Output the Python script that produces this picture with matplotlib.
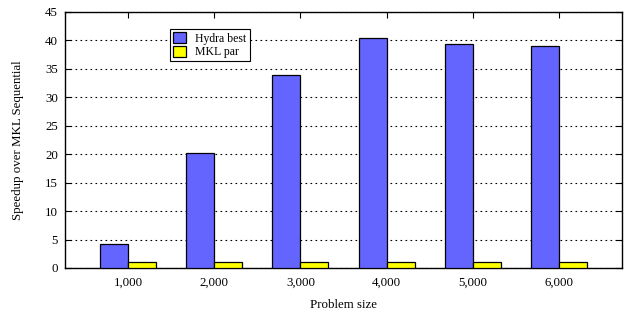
import matplotlib
matplotlib.use("Agg")
import matplotlib.pyplot as plt
import numpy as np

plt.rcParams['font.family'] = ['Liberation Serif', 'DejaVu Serif']

sizes = ["1,000", "2,000", "3,000", "4,000", "5,000", "6,000"]
hydra_best = [4.3, 20.2, 34.0, 40.5, 39.4, 39.0]
mkl_par = [1.0, 1.0, 1.0, 1.0, 1.0, 1.0]

fig = plt.figure(figsize=(6.26, 3.16), dpi=100)
ax = fig.add_axes([65/626, 48/316, 557/626, 256/316])

x = np.arange(1, len(sizes) + 1)
w = 0.325
ax.bar(x - w/2, hydra_best, w, color="#6464ff", edgecolor="black", linewidth=0.9, label="Hydra best", zorder=3)
ax.bar(x + w/2, mkl_par, w, color="#ffff00", edgecolor="black", linewidth=0.9, label="MKL par", zorder=3)

ax.set_xlim(0.27, 6.73)
ax.set_ylim(0, 45)
ax.set_yticks(range(0, 46, 5))
ax.set_xticks(x)
ax.set_xticklabels(sizes)
ax.tick_params(axis='both', direction='in', labelsize=9.3, top=True, right=True, length=4, width=0.8)
ax.tick_params(axis='x', pad=6)
ax.tick_params(axis='y', pad=5)
ax.yaxis.grid(True, linestyle=(0, (1.5, 3)), color="black", linewidth=0.8, zorder=0)
for s in ax.spines.values():
    s.set_linewidth(1.0)

ax.set_ylabel("Speedup over MKL Sequential", fontsize=9.3)
ax.yaxis.set_label_coords(-0.0736, 0.5)
ax.set_xlabel("Problem size", fontsize=9.3, labelpad=8)

leg = ax.legend(loc="upper left", bbox_to_anchor=(105/557, 1 - 17/256), fontsize=8.5,
                handlelength=1.1, handleheight=1.1, handletextpad=0.8, borderpad=0.25,
                labelspacing=0.1, borderaxespad=0, fancybox=False, framealpha=1, edgecolor="black")
leg.get_frame().set_linewidth(0.8)

fig.savefig("out.png", dpi=100)
